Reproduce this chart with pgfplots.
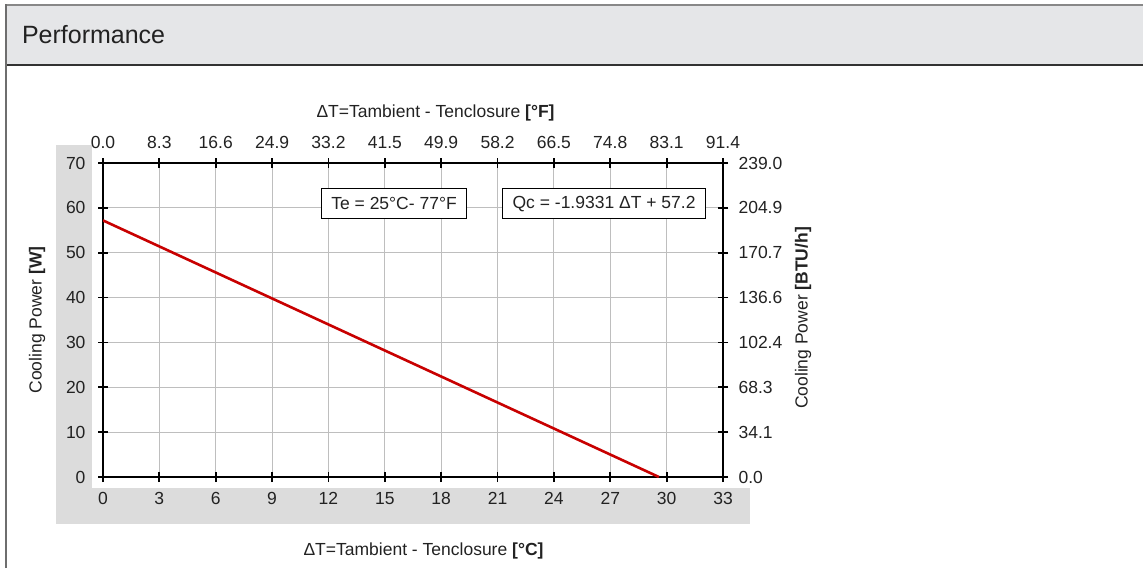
\documentclass[border=0pt]{standalone}
\usepackage{fontspec}
\setmainfont{Liberation Sans}
\usepackage{pgfplots}
\pgfplotsset{compat=1.18}

\definecolor{hdr}{RGB}{229,230,232}
\definecolor{hdrtop}{RGB}{136,136,136}
\definecolor{hdrline}{RGB}{50,50,50}
\definecolor{frame}{RGB}{110,110,110}
\definecolor{band}{RGB}{220,220,220}
\definecolor{gridc}{RGB}{190,190,190}
\definecolor{txt}{RGB}{34,34,34}
\definecolor{redc}{RGB}{200,0,0}

\newcommand{\tickfont}{\fontsize{17.5}{21}\selectfont}
\newcommand{\labfont}{\fontsize{17.5}{21}\selectfont}

\pgfplotsset{
  perf/.style={
    scale only axis, width=620pt, height=314pt,
    at={(103pt,91pt)}, anchor=south west,
    xmin=0, xmax=33, ymin=0, ymax=70,
    xtick={0,3,...,33}, ytick={0,10,...,70},
    axis line style={black, line width=1.8pt},
    major tick length=10pt, tick align=center,
    tick style={black, line width=1.8pt},
    tick label style={font=\tickfont, text=txt},
    /pgf/number format/assume math mode=true,
  }
}

\begin{document}
\begin{tikzpicture}[x=1pt,y=1pt]
\useasboundingbox (0,0) rectangle (1143,568);

% panel header
\fill[hdr] (6,503) rectangle (1143,563);
\draw[hdrtop, line width=2pt] (6,563) -- (1143,563);
\draw[hdrline, line width=1.2pt] (6,503) -- (1143,503);
\draw[frame, line width=1.2pt] (6,0) -- (6,564);
\node[anchor=west, font=\fontsize{25}{30}\selectfont, text=txt] at (18.5,533) {Performance};

% grey band behind the tick labels
\fill[band] (56,44) rectangle (750,423);
\fill[white] (92,80) rectangle (750,424);

\begin{axis}[perf,
    axis x line*=bottom, axis y line*=left,
    xticklabel style={yshift=-7pt},
    yticklabel style={xshift=-9pt},
    grid=major, major grid style={gridc, line width=1pt},
  ]
  \addplot[draw=redc, line width=2.6pt] coordinates {(0,57.2) (29.59,0)};
  \node[draw=black, line width=0.8pt, fill=white, font=\tickfont, text=txt,
        inner xsep=10pt, minimum height=30pt] at (axis cs:15.49,60.9) {Te = 25°C- 77°F};
  \node[draw=black, line width=0.8pt, fill=white, font=\tickfont, text=txt,
        inner xsep=10pt, minimum height=30pt] at (axis cs:26.67,60.9) {Qc = -1.9331 ΔT + 57.2};
\end{axis}

\begin{axis}[perf,
    axis x line*=top, axis y line*=right,
    xticklabel style={yshift=6pt},
    yticklabel style={xshift=7pt},
    xticklabels={0.0,8.3,16.6,24.9,33.2,41.5,49.9,58.2,66.5,74.8,83.1,91.4},
    yticklabels={0.0,34.1,68.3,102.4,136.6,170.7,204.9,239.0},
  ]
\end{axis}

% axis titles
\node[anchor=west, font=\labfont, text=txt] at (313,455) {ΔT=Tambient - Tenclosure \textbf{[°F]}};
\node[anchor=west, font=\labfont, text=txt] at (300,17) {ΔT=Tambient - Tenclosure \textbf{[°C]}};
\node[rotate=90, font=\labfont, text=txt] at (37,248) {Cooling Power \textbf{[W]}};
\node[rotate=90, font=\labfont, text=txt] at (803,250) {Cooling Power \textbf{[BTU/h]}};
\end{tikzpicture}
\end{document}
